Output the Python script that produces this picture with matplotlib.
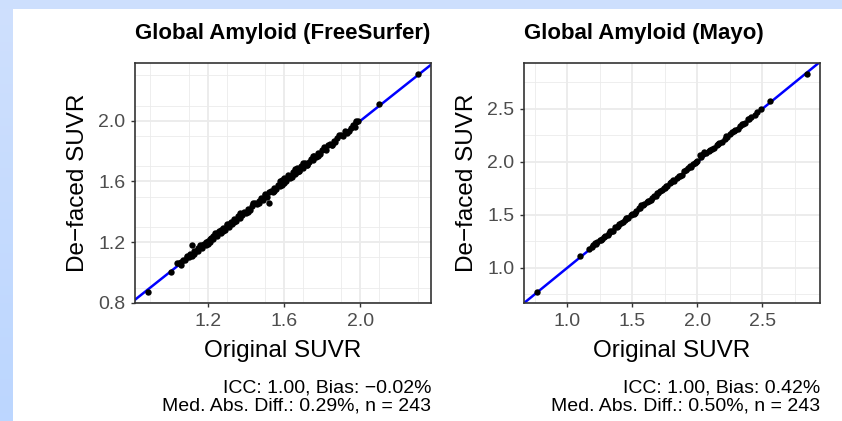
import matplotlib
matplotlib.use("Agg")
import matplotlib.pyplot as plt
import numpy as np

plt.rcParams["font.family"] = ["Liberation Sans", "DejaVu Sans"]

# Global Amyloid (FreeSurfer): original vs de-faced SUVR
fs_orig = [0.89, 1.01, 1.04, 1.05, 1.06, 1.07, 1.08, 1.09, 1.10, 1.11,
           1.12, 1.12, 1.13, 1.14, 1.15, 1.15, 1.16, 1.17, 1.17, 1.18,
           1.19, 1.19, 1.20, 1.21, 1.21, 1.22, 1.23, 1.23, 1.24, 1.25,
           1.25, 1.26, 1.27, 1.27, 1.28, 1.29, 1.30, 1.31, 1.31, 1.32,
           1.33, 1.34, 1.35, 1.36, 1.37, 1.38, 1.39, 1.40, 1.41, 1.42,
           1.43, 1.44, 1.45, 1.46, 1.47, 1.48, 1.49, 1.50, 1.51, 1.52,
           1.52, 1.53, 1.54, 1.55, 1.56, 1.57, 1.58, 1.59, 1.59, 1.60,
           1.61, 1.62, 1.63, 1.64, 1.65, 1.66, 1.67, 1.67, 1.68, 1.69,
           1.70, 1.71, 1.72, 1.73, 1.74, 1.75, 1.76, 1.77, 1.78, 1.79,
           1.80, 1.82, 1.83, 1.84, 1.85, 1.86, 1.87, 1.88, 1.90, 1.91,
           1.92, 1.93, 1.95, 1.96, 1.97, 1.98, 1.99, 2.10, 2.30,
           1.06, 1.09, 1.13, 1.16, 1.20, 1.24, 1.28, 1.30, 1.34, 1.37,
           1.41, 1.44, 1.47, 1.50, 1.55, 1.58, 1.60, 1.62, 1.64, 1.66,
           1.68, 1.70, 1.72, 1.75, 1.78, 1.81, 1.85, 1.89, 1.94, 1.98]
fs_deface = [0.87, 1.00, 1.06, 1.06, 1.07, 1.08, 1.08, 1.10, 1.10, 1.12,
             1.18, 1.11, 1.14, 1.14, 1.16, 1.14, 1.17, 1.16, 1.18, 1.19,
             1.18, 1.20, 1.21, 1.20, 1.22, 1.23, 1.22, 1.24, 1.25, 1.24,
             1.26, 1.27, 1.28, 1.26, 1.29, 1.28, 1.31, 1.30, 1.32, 1.33,
             1.32, 1.35, 1.34, 1.37, 1.36, 1.38, 1.40, 1.39, 1.42, 1.41,
             1.44, 1.45, 1.46, 1.45, 1.47, 1.49, 1.48, 1.51, 1.50, 1.46,
             1.53, 1.54, 1.53, 1.56, 1.55, 1.58, 1.57, 1.61, 1.58, 1.62,
             1.60, 1.63, 1.62, 1.64, 1.66, 1.65, 1.69, 1.66, 1.67, 1.70,
             1.69, 1.72, 1.71, 1.73, 1.75, 1.74, 1.77, 1.76, 1.79, 1.78,
             1.81, 1.81, 1.84, 1.85, 1.84, 1.87, 1.86, 1.89, 1.91, 1.90,
             1.93, 1.92, 1.95, 1.97, 1.96, 1.99, 2.00, 2.11, 2.31,
             1.05, 1.11, 1.12, 1.18, 1.19, 1.26, 1.27, 1.32, 1.33, 1.39,
             1.40, 1.46, 1.46, 1.52, 1.54, 1.60, 1.59, 1.64, 1.63, 1.68,
             1.67, 1.72, 1.71, 1.77, 1.77, 1.83, 1.84, 1.91, 1.93, 2.00]

# Global Amyloid (Mayo)
mayo_orig = [0.77, 1.10, 1.17, 1.19, 1.20, 1.22, 1.23, 1.25, 1.26, 1.28,
             1.29, 1.31, 1.32, 1.34, 1.35, 1.37, 1.38, 1.40, 1.41, 1.43,
             1.44, 1.46, 1.47, 1.49, 1.50, 1.52, 1.53, 1.55, 1.56, 1.58,
             1.59, 1.61, 1.62, 1.64, 1.65, 1.67, 1.68, 1.70, 1.71, 1.73,
             1.74, 1.76, 1.77, 1.79, 1.80, 1.82, 1.84, 1.86, 1.88, 1.90,
             1.91, 1.93, 1.95, 1.97, 1.99, 2.00, 2.02, 2.03, 2.05, 2.07,
             2.09, 2.11, 2.13, 2.15, 2.17, 2.19, 2.21, 2.23, 2.25, 2.27,
             2.29, 2.31, 2.33, 2.35, 2.37, 2.39, 2.41, 2.44, 2.49, 2.56,
             2.84,
             1.21, 1.27, 1.33, 1.39, 1.45, 1.51, 1.57, 1.63, 1.69, 1.75,
             1.81, 1.87, 1.94, 1.98, 2.04, 2.10, 2.16, 2.22, 2.28, 2.34,
             2.40, 2.46]
mayo_deface = [0.77, 1.11, 1.18, 1.20, 1.21, 1.22, 1.24, 1.26, 1.26, 1.29,
               1.30, 1.31, 1.33, 1.35, 1.35, 1.38, 1.38, 1.41, 1.42, 1.43,
               1.45, 1.47, 1.47, 1.50, 1.51, 1.52, 1.54, 1.56, 1.56, 1.59,
               1.60, 1.62, 1.63, 1.64, 1.66, 1.68, 1.68, 1.71, 1.72, 1.73,
               1.75, 1.77, 1.77, 1.80, 1.81, 1.82, 1.85, 1.87, 1.88, 1.91,
               1.92, 1.94, 1.95, 1.98, 2.00, 2.01, 2.06, 2.05, 2.09, 2.08,
               2.10, 2.12, 2.13, 2.16, 2.18, 2.19, 2.22, 2.23, 2.26, 2.28,
               2.30, 2.31, 2.34, 2.36, 2.37, 2.40, 2.42, 2.44, 2.50, 2.57,
               2.83,
               1.23, 1.27, 1.35, 1.39, 1.47, 1.51, 1.59, 1.63, 1.71, 1.75,
               1.83, 1.87, 1.96, 1.99, 2.07, 2.11, 2.17, 2.24, 2.29, 2.36,
               2.40, 2.47]

titles = ["Global Amyloid (FreeSurfer)", "Global Amyloid (Mayo)"]
captions = ["ICC: 1.00, Bias: \u22120.02%\nMed. Abs. Diff.: 0.29%, n = 243",
            "ICC: 1.00, Bias: 0.42%\nMed. Abs. Diff.: 0.50%, n = 243"]
xticks = [[1.2, 1.6, 2.0], [1.0, 1.5, 2.0, 2.5]]
yticks = [[0.8, 1.2, 1.6, 2.0], [1.0, 1.5, 2.0, 2.5]]
minor_step = [0.2, 0.25]

fig = plt.figure(figsize=(8.42, 4.21), dpi=100)
fig.patch.set_facecolor("white")

# light blue frame of the slide (top strip and left strip)
bg = fig.add_axes([0, 0, 1, 1], zorder=-10)
bg.axis("off")
bg.set_xlim(0, 842)
bg.set_ylim(421, 0)
bg.add_patch(plt.Rectangle((0, 0), 842, 9, color="#cddffd", lw=0))
grad = np.linspace(0, 1, 50).reshape(-1, 1)
bg.imshow(grad, extent=(0, 13, 421, 0), aspect="auto",
          cmap=matplotlib.colors.LinearSegmentedColormap.from_list("b", ["#cfe0fd", "#bcd6ff"]))

lefts = [135 / 842, 524 / 842]
w = 296 / 842
h = 240 / 421
bottom = 118 / 421

datasets = [(fs_orig, fs_deface), (mayo_orig, mayo_deface)]

for i in range(2):
    ax = fig.add_axes([lefts[i], bottom, w, h])
    x, y = datasets[i]
    x = np.array(x)
    y = np.array(y)
    xr = x.max() - x.min()
    yr = y.max() - y.min()

    ax.set_xticks(xticks[i])
    ax.set_yticks(yticks[i])
    ax.set_xticklabels([f"{v:.1f}" for v in xticks[i]])
    ax.set_yticklabels([f"{v:.1f}" for v in yticks[i]])
    st = minor_step[i]
    ax.set_xticks(np.arange(0.5, 3.2, st), minor=True)
    ax.set_yticks(np.arange(0.5, 3.2, st), minor=True)
    # ggplot-style 5% expansion
    ax.set_xlim(x.min() - 0.05 * xr, x.max() + 0.05 * xr)
    ax.set_ylim(y.min() - 0.05 * yr, y.max() + 0.05 * yr)

    ax.grid(which="major", color="#ebebeb", lw=1.3)
    ax.grid(which="minor", color="#ebebeb", lw=0.6)
    ax.set_axisbelow(True)
    ax.tick_params(which="minor", length=0)
    ax.tick_params(which="major", length=3, width=1, color="#333333",
                   labelsize=14, labelcolor="#4d4d4d", pad=4)
    for sp in ax.spines.values():
        sp.set_color("#333333")
        sp.set_linewidth(1.2)

    ax.axline((1, 1), slope=1, color="#0000ff", lw=1.8, zorder=2)
    ax.scatter(x, y, s=21, color="black", lw=0, zorder=3)

    ax.text(0, 1.102, titles[i], transform=ax.transAxes, ha="left",
            va="baseline", fontsize=16, fontweight="bold")
    ax.text(0.5, -0.225, "Original SUVR", transform=ax.transAxes,
            ha="center", va="baseline", fontsize=17.5)
    ax.text(-0.171, 0.5, "De\u2212faced SUVR", transform=ax.transAxes,
            ha="center", va="baseline", rotation=90, rotation_mode="anchor",
            fontsize=17.5)
    ax.text(1.0, -0.446, captions[i], transform=ax.transAxes, ha="right",
            va="baseline", fontsize=14, linespacing=1.05)

fig.savefig("out.png", dpi=100)
